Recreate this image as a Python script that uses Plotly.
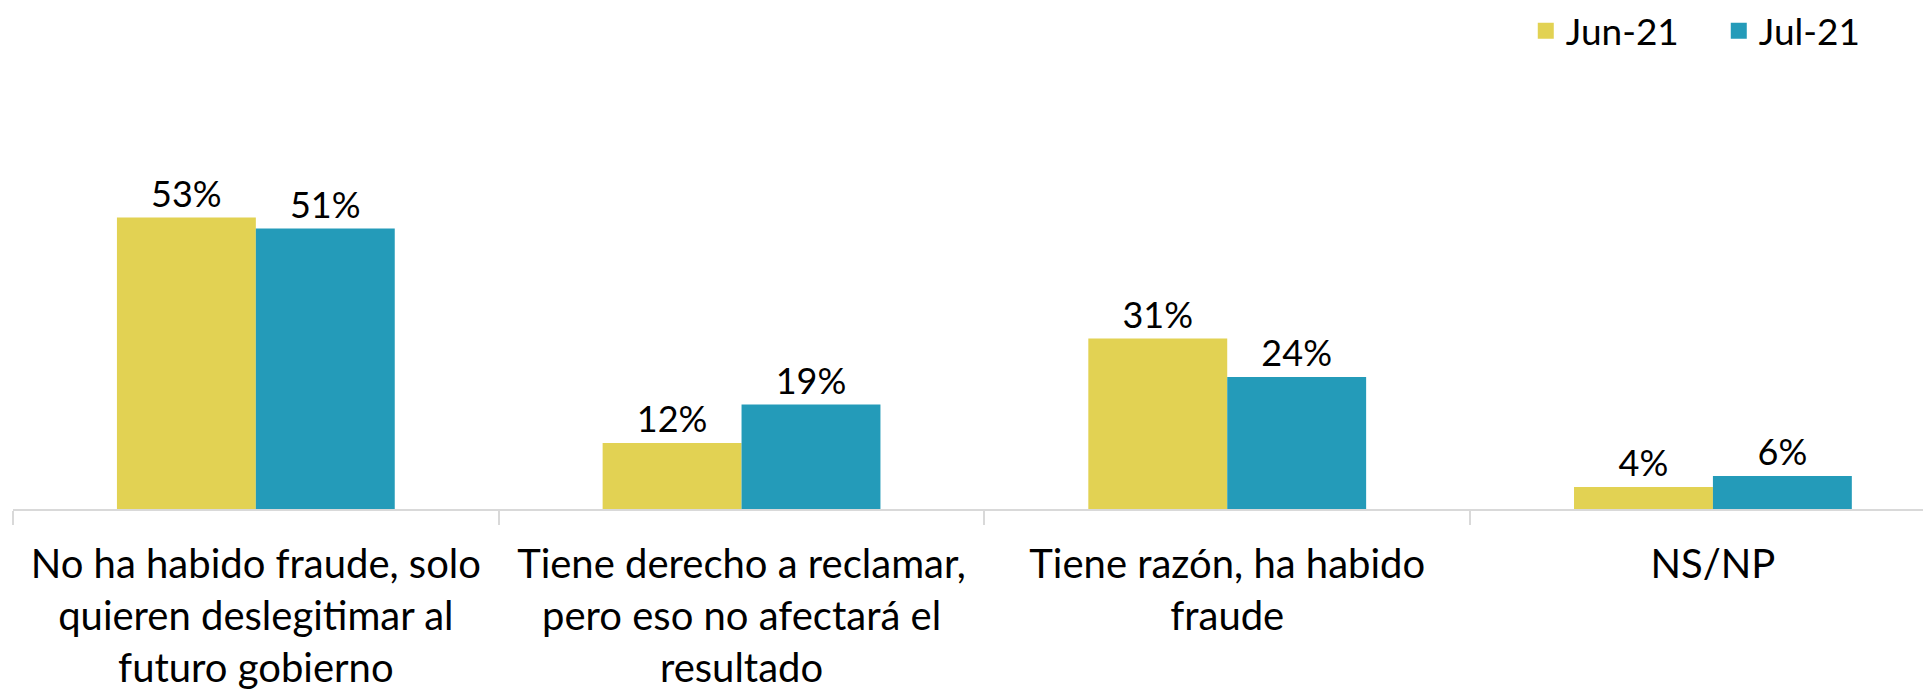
import plotly.graph_objects as go

categories = [
    "No ha habido fraude, solo<br>quieren deslegitimar al<br>futuro gobierno",
    "Tiene derecho a reclamar,<br>pero eso no afectará el<br>resultado",
    "Tiene razón, ha habido<br>fraude",
    "NS/NP",
]
series_names = ["Jun-21", "Jul-21"]
jun_values = [53, 12, 31, 4]
jul_values = [51, 19, 24, 6]
colors = ["#E2D253", "#249BB9"]

FONT = "Lato"

fig = go.Figure()
for name, vals, col in zip(series_names, [jun_values, jul_values], colors):
    fig.add_trace(go.Bar(
        name=name, x=categories, y=vals,
        marker=dict(color=col, line=dict(width=12, color="rgba(0,0,0,0)")),
        texttemplate="%{y}%", textposition="outside",
        textfont=dict(family=FONT, size=36, color="#000000"),
        constraintext="none", cliponaxis=False, showlegend=False,
    ))
# legend entries (square swatches)
for name, col in zip(series_names, colors):
    fig.add_trace(go.Scatter(
        name=name, x=[None], y=[None], mode="markers",
        marker=dict(symbol="square", size=22, color=col),
        showlegend=True,
    ))

# the page body has an 8px margin, so the figure is sized to fit the window
fig.update_layout(
    width=1923, height=681,
    paper_bgcolor="white", plot_bgcolor="white",
    margin=dict(l=5, r=0, t=171, b=180, autoexpand=False),
    barmode="group", bargap=0.428, bargroupgap=0,
    font=dict(family=FONT, color="#000000"),
    legend=dict(
        orientation="h", xref="container", yref="container",
        x=0.990, xanchor="right", y=0.966, yanchor="middle",
        font=dict(family=FONT, size=37, color="#000000"),
        itemwidth=30, traceorder="normal", itemsizing="trace",
        entrywidth=148,
    ),
    showlegend=True,
)
fig.update_xaxes(
    range=[-0.5, 3.449], tickson="boundaries", ticks="outside", ticklen=14,
    tickcolor="#D9D9D9", tickwidth=2, showline=True, linecolor="#D9D9D9",
    linewidth=2, showgrid=False, ticklabelstandoff=19, automargin=False,
    tickfont=dict(family=FONT, size=40, color="#000000"),
)
fig.update_yaxes(range=[0, 60], visible=False, showgrid=False, automargin=False)

fig.write_html("out.html")
